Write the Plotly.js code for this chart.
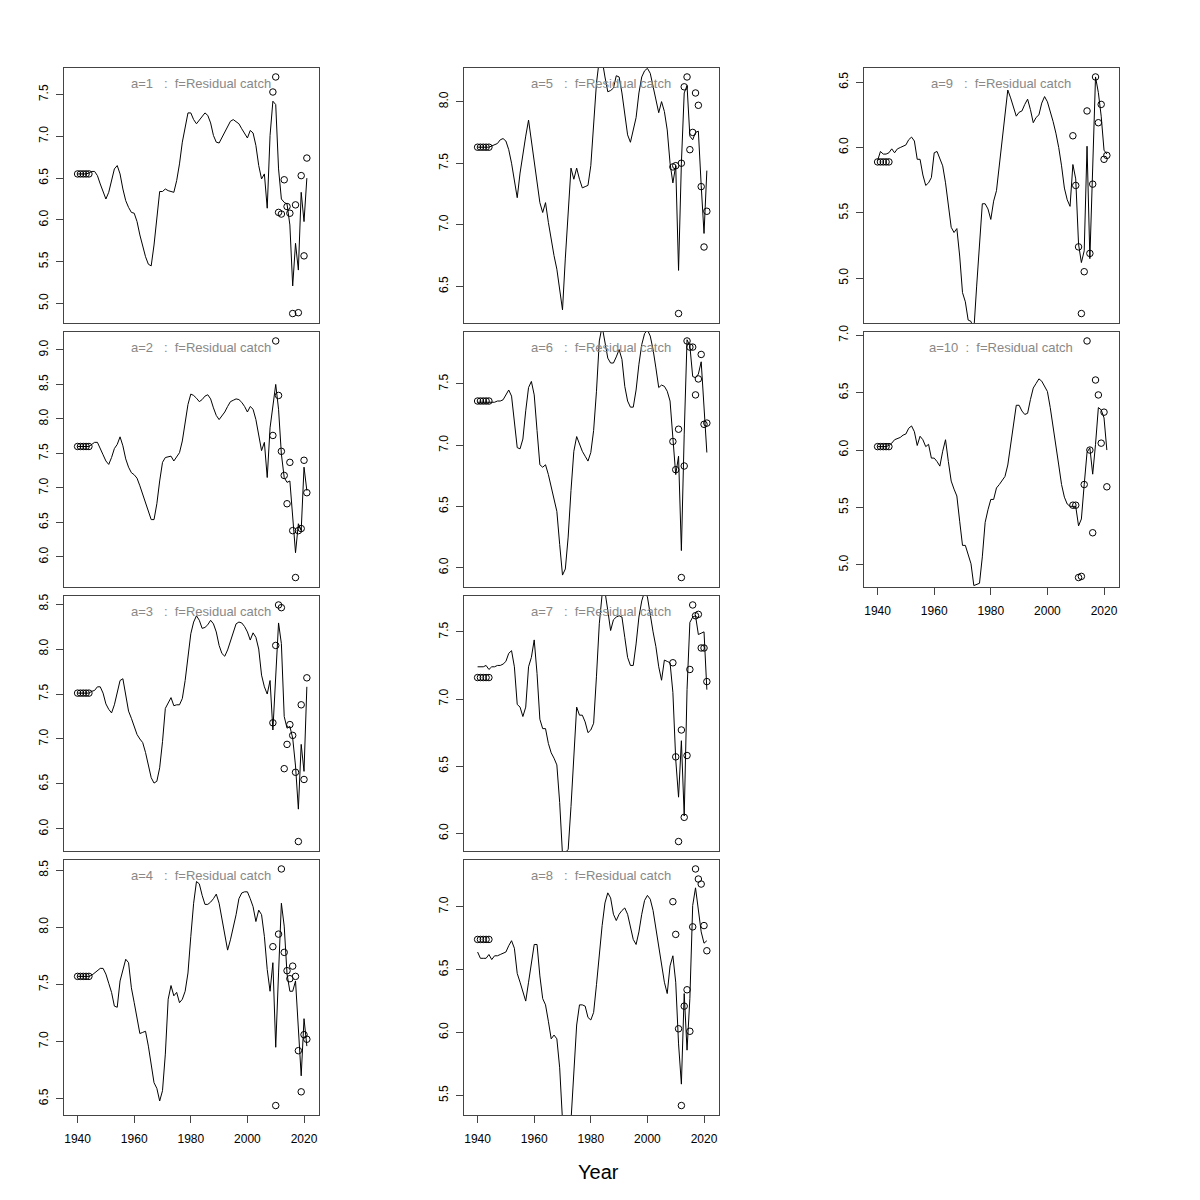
<!DOCTYPE html>
<html>
<head>
<meta charset="utf-8">
<script src="https://cdn.plot.ly/plotly-3.0.1.min.js"></script>
<style>
  html, body { margin: 0; padding: 0; background: #ffffff; }
  #chart { width: 1200px; height: 1200px; }
</style>
</head>
<body>
<div id="chart"></div>
<script>
// ---------------- DATA ----------------
const years = [1940,1941,1942,1943,1944,1945,1946,1947,1948,1949,
               1950,1951,1952,1953,1954,1955,1956,1957,1958,1959,
               1960,1961,1962,1963,1964,1965,1966,1967,1968,1969,
               1970,1971,1972,1973,1974,1975,1976,1977,1978,1979,
               1980,1981,1982,1983,1984,1985,1986,1987,1988,1989,
               1990,1991,1992,1993,1994,1995,1996,1997,1998,1999,
               2000,2001,2002,2003,2004,2005,2006,2007,2008,2009,
               2010,2011,2012,2013,2014,2015,2016,2017,2018,2019,
               2020,2021];
const pointYears = [1940,1941,1942,1943,1944,
                    2009,2010,2011,2012,2013,2014,2015,2016,2017,2018,2019,2020,2021];
const ages = [1,2,3,4,5,6,7,8,9,10];
const fleetName = "Residual catch";
const xTickVals = [1940,1960,1980,2000,2020];
const xAxisTitle = "Year";

const line_a1 = [6.55,6.55,6.55,6.55,6.56,6.58,6.58,6.53,6.43,6.34,
                 6.25,6.33,6.49,6.61,6.65,6.55,6.37,6.23,6.15,6.09,
                 6.08,5.98,5.82,5.68,5.56,5.47,5.45,5.70,6.02,6.34,
                 6.34,6.37,6.35,6.34,6.33,6.47,6.67,6.93,7.12,7.28,
                 7.28,7.20,7.15,7.19,7.23,7.28,7.25,7.16,7.01,6.93,
                 6.92,6.99,7.05,7.12,7.18,7.20,7.17,7.15,7.09,7.03,
                 6.98,7.07,7.04,6.89,6.65,6.49,6.55,6.14,7.01,7.42,
                 7.38,6.61,6.25,6.21,6.19,5.94,5.21,5.72,5.40,6.33,
                 5.98,6.50];
const pts_a1 = [6.55,6.55,6.55,6.55,6.55,
                7.53,7.71,6.09,6.07,6.48,6.16,6.08,4.88,6.18,4.89,6.53,5.57,6.74];

const line_a2 = [7.60,7.60,7.60,7.60,7.60,7.63,7.66,7.66,7.58,7.48,
                 7.39,7.34,7.44,7.57,7.63,7.74,7.61,7.42,7.30,7.22,
                 7.19,7.14,7.03,6.91,6.79,6.65,6.54,6.54,6.77,7.10,
                 7.37,7.44,7.45,7.46,7.39,7.45,7.51,7.68,7.97,8.21,
                 8.36,8.34,8.30,8.25,8.28,8.33,8.35,8.29,8.16,8.05,
                 7.99,8.04,8.10,8.18,8.25,8.27,8.29,8.28,8.24,8.18,
                 8.10,8.18,8.14,7.99,7.78,7.54,7.66,7.15,7.87,8.16,
                 8.50,8.14,7.49,7.15,7.08,7.10,6.53,6.06,6.48,6.38,
                 7.30,6.96];
const pts_a2 = [7.60,7.60,7.60,7.60,7.60,
                7.76,9.13,8.34,7.53,7.18,6.77,7.37,6.38,5.70,6.38,6.41,7.40,6.93];

const line_a3 = [7.51,7.51,7.51,7.51,7.51,7.53,7.54,7.58,7.58,7.51,
                 7.39,7.33,7.29,7.38,7.53,7.65,7.67,7.51,7.31,7.23,
                 7.14,7.05,7.00,6.96,6.85,6.70,6.57,6.51,6.53,6.68,
                 6.97,7.34,7.40,7.46,7.37,7.38,7.38,7.45,7.65,7.91,
                 8.17,8.30,8.37,8.32,8.23,8.24,8.27,8.32,8.28,8.19,
                 8.04,7.95,7.92,7.99,8.08,8.19,8.28,8.30,8.29,8.25,
                 8.19,8.10,8.18,8.13,8.00,7.71,7.58,7.50,7.65,7.10,
                 7.76,8.29,8.06,7.25,7.12,7.14,7.01,6.70,6.22,6.94,
                 6.64,7.58];
const pts_a3 = [7.51,7.51,7.51,7.51,7.51,
                7.18,8.04,8.49,8.46,6.67,6.94,7.16,7.04,6.63,5.86,7.38,6.55,7.68];

const line_a4 = [7.57,7.57,7.57,7.57,7.57,7.58,7.60,7.62,7.64,7.64,
                 7.59,7.51,7.43,7.31,7.30,7.53,7.62,7.72,7.69,7.47,
                 7.34,7.20,7.07,7.08,7.09,6.96,6.79,6.64,6.59,6.48,
                 6.57,6.89,7.37,7.49,7.40,7.43,7.34,7.37,7.44,7.60,
                 7.92,8.21,8.40,8.38,8.28,8.20,8.20,8.22,8.25,8.29,
                 8.21,8.07,7.92,7.80,7.89,7.99,8.11,8.25,8.30,8.31,
                 8.31,8.25,8.18,8.05,8.15,8.11,7.92,7.63,7.44,7.69,
                 6.95,7.60,8.21,8.01,7.59,7.44,7.44,7.53,7.11,6.70,
                 7.20,6.96];
const pts_a4 = [7.57,7.57,7.57,7.57,7.57,
                7.83,6.44,7.94,8.51,7.78,7.62,7.55,7.66,7.57,6.92,6.56,7.06,7.02];

const line_a5 = [7.63,7.63,7.63,7.63,7.63,7.64,7.65,7.66,7.69,7.70,
                 7.68,7.61,7.50,7.37,7.22,7.42,7.58,7.72,7.85,7.68,
                 7.50,7.32,7.18,7.10,7.18,7.02,6.87,6.75,6.64,6.48,
                 6.31,6.73,7.14,7.46,7.37,7.46,7.37,7.30,7.31,7.32,
                 7.48,7.80,8.15,8.34,8.34,8.20,8.08,8.09,8.11,8.21,
                 8.20,8.07,7.89,7.73,7.67,7.76,7.87,8.07,8.20,8.25,
                 8.27,8.23,8.12,8.00,7.91,8.00,7.92,7.77,7.50,7.34,
                 7.48,6.63,7.50,8.07,8.13,7.72,7.69,7.75,7.76,7.32,
                 6.93,7.44];
const pts_a5 = [7.63,7.63,7.63,7.63,7.63,
                7.47,7.48,6.28,7.50,8.12,8.20,7.61,7.75,8.07,7.97,7.31,6.82,7.11];

const line_a6 = [7.35,7.35,7.35,7.35,7.35,7.35,7.35,7.36,7.36,7.37,
                 7.41,7.45,7.40,7.20,6.98,6.97,7.05,7.28,7.47,7.52,
                 7.41,7.12,6.84,6.82,6.84,6.76,6.66,6.57,6.46,6.19,
                 5.94,5.99,6.25,6.63,6.95,7.07,7.01,6.95,6.91,6.87,
                 6.94,7.12,7.44,7.85,7.97,7.83,7.71,7.67,7.67,7.72,
                 7.78,7.70,7.48,7.36,7.31,7.31,7.45,7.66,7.82,7.91,
                 7.94,7.89,7.78,7.63,7.47,7.49,7.48,7.44,7.36,7.06,
                 6.76,6.91,6.14,7.09,7.86,7.81,7.56,7.55,7.58,7.68,
                 7.31,6.94];
const pts_a6 = [7.36,7.36,7.36,7.36,7.36,
                7.03,6.80,7.13,5.92,6.83,7.85,7.80,7.80,7.41,7.54,7.74,7.17,7.18];

const line_a7 = [7.24,7.24,7.24,7.25,7.22,7.24,7.24,7.25,7.25,7.26,
                 7.28,7.34,7.36,7.24,6.96,6.94,6.87,6.94,7.24,7.31,
                 7.44,7.19,6.85,6.78,6.78,6.67,6.60,6.56,6.51,6.23,
                 5.84,5.86,5.88,6.20,6.53,6.94,6.88,6.88,6.83,6.75,
                 6.77,6.82,7.17,7.56,7.78,7.80,7.66,7.51,7.59,7.61,
                 7.62,7.61,7.46,7.31,7.25,7.25,7.41,7.61,7.73,7.80,
                 7.76,7.61,7.50,7.39,7.24,7.14,7.29,7.28,7.27,7.05,
                 6.55,6.27,6.69,6.13,7.07,7.57,7.61,7.62,7.48,7.49,
                 7.50,7.07];
const pts_a7 = [7.16,7.16,7.16,7.16,7.16,
                7.27,6.57,5.94,6.77,6.12,6.58,7.22,7.70,7.62,7.63,7.38,7.38,7.13];

const line_a8 = [6.64,6.59,6.59,6.59,6.62,6.58,6.61,6.61,6.62,6.63,
                 6.64,6.69,6.73,6.67,6.47,6.40,6.32,6.25,6.40,6.57,
                 6.70,6.70,6.45,6.27,6.22,6.09,5.95,5.98,5.95,5.72,
                 5.30,5.20,5.20,5.30,5.69,6.06,6.22,6.22,6.21,6.12,
                 6.10,6.16,6.38,6.64,6.85,7.03,7.11,7.07,6.94,6.89,
                 6.94,6.97,6.99,6.94,6.85,6.74,6.70,6.80,6.94,7.05,
                 7.09,7.06,6.97,6.82,6.68,6.53,6.40,6.31,6.53,6.61,
                 6.40,5.91,5.59,6.31,5.86,6.27,7.01,7.15,6.98,6.80,
                 6.71,6.73];
const pts_a8 = [6.74,6.74,6.74,6.74,6.74,
                7.04,6.78,6.03,5.42,6.21,6.34,6.01,6.84,7.30,7.22,7.18,6.85,6.65];

const line_a9 = [5.90,5.97,5.95,5.95,5.96,5.99,5.96,5.99,6.00,6.01,
                 6.02,6.06,6.08,6.05,5.91,5.91,5.79,5.71,5.73,5.77,
                 5.96,5.97,5.92,5.86,5.73,5.55,5.39,5.35,5.38,5.17,
                 4.89,4.82,4.68,4.67,4.60,4.94,5.30,5.57,5.57,5.53,
                 5.45,5.59,5.67,5.86,6.09,6.29,6.44,6.38,6.30,6.24,
                 6.27,6.28,6.33,6.37,6.29,6.19,6.23,6.25,6.34,6.39,
                 6.35,6.28,6.20,6.11,6.00,5.86,5.69,5.60,5.55,5.87,
                 5.76,5.26,5.12,5.21,6.01,5.15,5.80,6.54,6.42,6.24,
                 5.98,5.95];
const pts_a9 = [5.89,5.89,5.89,5.89,5.89,
                6.09,5.71,5.24,4.73,5.05,6.28,5.19,5.72,6.54,6.19,6.33,5.91,5.94];

const line_a10 = [6.03,6.03,6.03,6.03,6.04,6.06,6.09,6.10,6.11,6.13,
                  6.14,6.19,6.21,6.16,6.04,6.12,6.09,6.03,6.05,5.93,
                  5.93,5.90,5.86,5.99,6.09,5.90,5.73,5.66,5.60,5.38,
                  5.17,5.17,5.08,5.01,4.82,4.83,4.84,5.07,5.37,5.48,
                  5.57,5.57,5.67,5.70,5.73,5.77,5.87,6.05,6.25,6.39,
                  6.39,6.34,6.31,6.32,6.44,6.54,6.58,6.62,6.60,6.55,
                  6.51,6.37,6.19,6.02,5.87,5.70,5.59,5.53,5.51,5.51,
                  5.51,5.34,5.40,5.70,5.98,6.02,5.79,6.05,6.37,6.35,
                  6.28,6.00];
const pts_a10 = [6.03,6.03,6.03,6.03,6.03,
                 5.52,5.52,4.89,4.90,5.70,6.95,6.00,5.28,6.61,6.48,6.06,6.33,5.68];

const lines = [line_a1,line_a2,line_a3,line_a4,line_a5,line_a6,line_a7,line_a8,line_a9,line_a10];
const points = [pts_a1,pts_a2,pts_a3,pts_a4,pts_a5,pts_a6,pts_a7,pts_a8,pts_a9,pts_a10];

// ---------------- LAYOUT GEOMETRY ----------------
const PAGE = 1200;
const colLeft = [64.3, 464.3, 864.3];
const rowTop = [67.5, 331.5, 595.5, 859.5];
const PW = 255, PH = 255.5;
const panelCell = [[0,0],[0,1],[0,2],[0,3],[1,0],[1,1],[1,2],[1,3],[2,0],[2,1]];
const bottomPanels = [3, 7, 9];
const xRange = [1935.3, 2025.4];
const FONT = "Liberation Sans, Arial, Helvetica, sans-serif";
const nb = "\u00a0";

function padRange(arr) {
  const mn = Math.min(...arr), mx = Math.max(...arr);
  const r = mx - mn;
  return [mn - 0.04 * r, mx + 0.04 * r];
}

const traces = [];
const layout = {
  width: PAGE, height: PAGE,
  margin: {l: 0, r: 0, t: 0, b: 0, pad: 0},
  paper_bgcolor: "#ffffff",
  plot_bgcolor: "#ffffff",
  showlegend: false,
  font: {family: FONT, size: 12, color: "#000000"},
  annotations: []
};

ages.forEach((age, i) => {
  const n = i + 1;
  const xs = n === 1 ? "x" : "x" + n;
  const ys = n === 1 ? "y" : "y" + n;
  const xk = n === 1 ? "xaxis" : "xaxis" + n;
  const yk = n === 1 ? "yaxis" : "yaxis" + n;
  const [c, r] = panelCell[i];
  const left = colLeft[c], top = rowTop[r];
  const isBottom = bottomPanels.includes(i);

  traces.push({
    x: years, y: lines[i], xaxis: xs, yaxis: ys,
    type: "scatter", mode: "lines",
    line: {color: "#000000", width: 1},
    hoverinfo: "skip"
  });
  traces.push({
    x: pointYears, y: points[i], xaxis: xs, yaxis: ys,
    type: "scatter", mode: "markers",
    marker: {symbol: "circle-open", size: 6.5, color: "#000000", line: {width: 1, color: "#000000"}},
    hoverinfo: "skip"
  });

  layout[xk] = {
    domain: [left / PAGE, (left + PW) / PAGE],
    anchor: ys,
    range: xRange,
    showgrid: false, zeroline: false,
    showline: true, mirror: true, linecolor: "#444444", linewidth: 1,
    ticks: isBottom ? "outside" : "",
    ticklen: 7, tickwidth: 1, tickcolor: "#444444",
    tickvals: xTickVals,
    showticklabels: isBottom,
    ticklabelstandoff: 6,
    tickfont: {family: FONT, size: 12, color: "#000000"},
    fixedrange: true
  };
  layout[yk] = {
    domain: [1 - (top + PH) / PAGE, 1 - top / PAGE],
    anchor: xs,
    range: padRange(points[i]),
    showgrid: false, zeroline: false,
    showline: true, mirror: true, linecolor: "#444444", linewidth: 1,
    ticks: "outside", ticklen: 7, tickwidth: 1, tickcolor: "#444444",
    tick0: 0, dtick: 0.5, tickformat: ".1f",
    tickangle: -90,
    ticklabelstandoff: 4,
    tickfont: {family: FONT, size: 12, color: "#000000"},
    fixedrange: true
  };

  const label = age < 10
    ? "a=" + age + nb + nb + nb + ":" + nb + nb + "f=" + fleetName
    : "a=" + age + nb + nb + ":" + nb + nb + "f=" + fleetName;
  layout.annotations.push({
    xref: xs + " domain", yref: ys + " domain",
    x: 136.3 / PW, y: 1 - 15.8 / PH,
    xanchor: "center", yanchor: "middle",
    text: label, showarrow: false,
    font: {family: FONT, size: 13, color: "#888888"}
  });
});

layout.annotations.push({
  xref: "paper", yref: "paper",
  x: 598 / PAGE, y: 1 - 1171.7 / PAGE,
  xanchor: "center", yanchor: "middle",
  text: xAxisTitle, showarrow: false,
  font: {family: FONT, size: 20, color: "#000000"}
});

Plotly.newPlot("chart", traces, layout, {displayModeBar: false, staticPlot: true});
</script>
</body>
</html>
